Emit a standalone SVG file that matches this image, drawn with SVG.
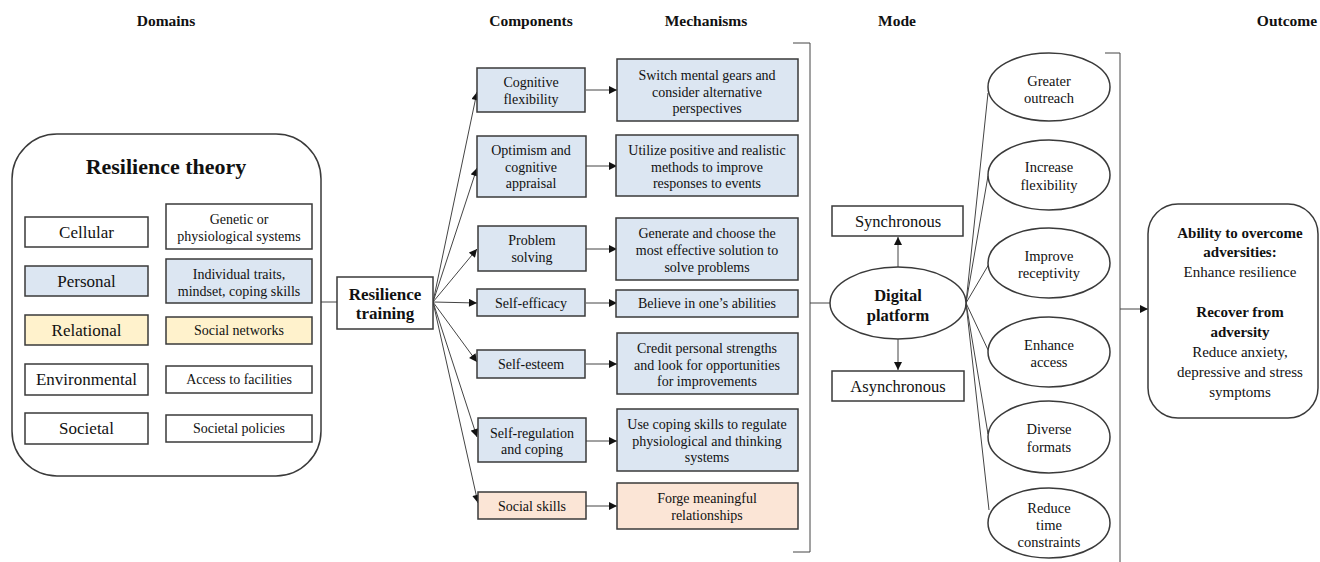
<svg xmlns="http://www.w3.org/2000/svg" width="1320" height="562" viewBox="0 0 1320 562" font-family="'Liberation Serif', 'Times New Roman', 'DejaVu Serif', serif">
<style>
text{font-family:'Liberation Serif','Times New Roman','DejaVu Serif',serif;fill:#111;text-anchor:middle;dominant-baseline:central}
.h{font-weight:bold;font-size:15.5px}
.b{stroke:#3a3a3a;stroke-width:1.5;fill:#fff}
.blue{fill:#dce6f2}
.yel{fill:#fff2cc}
.pch{fill:#fbe5d6}
.t14{font-size:14px}
.t15{font-size:15px}
.t17{font-size:17px}
.bold{font-weight:bold}
.ln{stroke:#444;stroke-width:1;fill:none}
.ar{stroke:#444;stroke-width:1;fill:none;marker-end:url(#ah)}
</style>
<defs>
<marker id="ah" viewBox="0 0 10 10" refX="10" refY="5" markerWidth="9" markerHeight="8" markerUnits="userSpaceOnUse" orient="auto">
<path d="M0,0 L10,5 L0,10 z" fill="#111"/>
</marker>
</defs>
<rect width="1320" height="562" fill="#fff"/>
<g id="headers">
<text class="h" x="166" y="20">Domains</text>
<text class="h" x="531" y="20">Components</text>
<text class="h" x="706" y="20">Mechanisms</text>
<text class="h" x="897" y="20">Mode</text>
<text class="h" x="1287" y="20">Outcome</text>
</g>
<g id="connectors">
<line class="ln" x1="148" y1="232" x2="166" y2="228"/>
<line class="ln" x1="148" y1="281" x2="166" y2="281"/>
<line class="ln" x1="148" y1="330" x2="166" y2="330"/>
<line class="ln" x1="148" y1="379" x2="166" y2="379"/>
<line class="ln" x1="148" y1="429" x2="166" y2="429"/>
<polyline class="ln" points="305,253 319,253 319,351 305,351"/>
<line class="ln" x1="319" y1="302" x2="337" y2="302"/>
<line class="ar" x1="433" y1="302" x2="477" y2="92"/>
<line class="ar" x1="433" y1="302" x2="477" y2="168"/>
<line class="ar" x1="433" y1="302" x2="477" y2="249"/>
<line class="ar" x1="433" y1="302" x2="477" y2="303"/>
<line class="ar" x1="433" y1="302" x2="477" y2="362"/>
<line class="ar" x1="433" y1="302" x2="477" y2="437"/>
<line class="ar" x1="433" y1="302" x2="478" y2="503"/>
<line class="ar" x1="586" y1="90" x2="617" y2="90"/>
<line class="ar" x1="586" y1="166" x2="617" y2="166"/>
<line class="ar" x1="586" y1="249" x2="617" y2="249"/>
<line class="ar" x1="586" y1="303" x2="617" y2="303"/>
<line class="ar" x1="586" y1="364" x2="617" y2="364"/>
<line class="ar" x1="586" y1="441" x2="617" y2="441"/>
<line class="ar" x1="586" y1="506" x2="617" y2="506"/>
<polyline class="ln" points="793,43 810,43 810,552 793,552"/>
<line class="ln" x1="810" y1="303" x2="830" y2="303"/>
<line class="ar" x1="898" y1="267" x2="898" y2="237"/>
<line class="ar" x1="898" y1="339" x2="898" y2="370"/>
<line class="ln" x1="966" y1="303" x2="988" y2="93"/>
<line class="ln" x1="966" y1="303" x2="988" y2="176"/>
<line class="ln" x1="966" y1="303" x2="989" y2="264"/>
<line class="ln" x1="966" y1="303" x2="989" y2="352"/>
<line class="ln" x1="966" y1="303" x2="988" y2="434"/>
<line class="ln" x1="966" y1="303" x2="989" y2="510"/>
<polyline class="ln" points="1105,53 1120,53 1120,562"/>
<line class="ar" x1="1120" y1="309" x2="1148" y2="309"/>
</g>
<g id="resilience-theory">
<rect class="b" x="12" y="134" width="309" height="342" rx="45" ry="45"/>
<text x="166" y="166" class="bold" style="font-size:22px">Resilience theory</text>
</g>
<g id="cellular"><rect class="b" x="25" y="217" width="123" height="30"/><text class="t17" x="86.5" y="232">Cellular</text></g>
<g id="genetic"><rect class="b" x="166" y="204" width="146" height="45"/><text class="t14" x="239" y="219">Genetic or</text><text class="t14" x="239" y="236">physiological systems</text></g>
<g id="personal"><rect class="b blue" x="25" y="266" width="123" height="30"/><text class="t17" x="86.5" y="281">Personal</text></g>
<g id="individual"><rect class="b blue" x="166" y="259" width="146" height="44"/><text class="t14" x="239" y="274">Individual traits,</text><text class="t14" x="239" y="291">mindset, coping skills</text></g>
<g id="relational"><rect class="b yel" x="25" y="315" width="123" height="30"/><text class="t17" x="86.5" y="330">Relational</text></g>
<g id="social-networks"><rect class="b yel" x="166" y="317" width="146" height="27"/><text class="t14" x="239" y="330.5">Social networks</text></g>
<g id="environmental"><rect class="b" x="25" y="364" width="123" height="31"/><text class="t17" x="86.5" y="379">Environmental</text></g>
<g id="access"><rect class="b" x="166" y="366" width="146" height="27"/><text class="t14" x="239" y="379.5">Access to facilities</text></g>
<g id="societal"><rect class="b" x="25" y="413" width="123" height="31"/><text class="t17" x="86.5" y="428.5">Societal</text></g>
<g id="societal-policies"><rect class="b" x="166" y="415" width="146" height="27"/><text class="t14" x="239" y="428.5">Societal policies</text></g>
<g id="resilience-training"><rect class="b" x="337" y="277" width="96" height="52"/><text class="t17 bold" x="385" y="294">Resilience</text><text class="t17 bold" x="385" y="313">training</text></g>
<g id="cognitive-flexibility"><rect class="b blue" x="477" y="68" width="108" height="44"/><text class="t14" x="531" y="82">Cognitive</text><text class="t14" x="531" y="99">flexibility</text></g>
<g id="optimism"><rect class="b blue" x="477" y="136" width="109" height="61"/><text class="t14" x="531" y="150">Optimism and</text><text class="t14" x="531" y="167">cognitive</text><text class="t14" x="531" y="183">appraisal</text></g>
<g id="problem-solving"><rect class="b blue" x="478" y="226" width="108" height="45"/><text class="t14" x="532" y="240">Problem</text><text class="t14" x="532" y="257">solving</text></g>
<g id="self-efficacy"><rect class="b blue" x="477" y="289" width="108" height="27"/><text class="t14" x="531" y="303">Self-efficacy</text></g>
<g id="self-esteem"><rect class="b blue" x="477" y="350" width="108" height="28"/><text class="t14" x="531" y="364">Self-esteem</text></g>
<g id="self-regulation"><rect class="b blue" x="478" y="418" width="108" height="44"/><text class="t14" x="532" y="433">Self-regulation</text><text class="t14" x="532" y="449">and coping</text></g>
<g id="social-skills"><rect class="b pch" x="478" y="492" width="108" height="27"/><text class="t14" x="532" y="506">Social skills</text></g>
<g id="switch"><rect class="b blue" x="617" y="59" width="181" height="62"/><text class="t14" x="707" y="75">Switch mental gears and</text><text class="t14" x="707" y="92">consider alternative</text><text class="t14" x="707" y="108">perspectives</text></g>
<g id="utilize"><rect class="b blue" x="616" y="135" width="182" height="61"/><text class="t14" x="707" y="150">Utilize positive and realistic</text><text class="t14" x="707" y="167">methods to improve</text><text class="t14" x="707" y="183">responses to events</text></g>
<g id="generate"><rect class="b blue" x="616" y="218" width="182" height="62"/><text class="t14" x="707" y="233">Generate and choose the</text><text class="t14" x="707" y="250">most effective solution to</text><text class="t14" x="707" y="267">solve problems</text></g>
<g id="believe"><rect class="b blue" x="616" y="290" width="182" height="27"/><text class="t14" x="707" y="303.5">Believe in one’s abilities</text></g>
<g id="credit"><rect class="b blue" x="617" y="333" width="181" height="61"/><text class="t14" x="707" y="348">Credit personal strengths</text><text class="t14" x="707" y="365">and look for opportunities</text><text class="t14" x="707" y="381">for improvements</text></g>
<g id="use-coping"><rect class="b blue" x="617" y="409" width="181" height="62"/><text class="t14" x="707" y="424">Use coping skills to regulate</text><text class="t14" x="707" y="441">physiological and thinking</text><text class="t14" x="707" y="457">systems</text></g>
<g id="forge"><rect class="b pch" x="617" y="483" width="181" height="46"/><text class="t14" x="707" y="498">Forge meaningful</text><text class="t14" x="707" y="515">relationships</text></g>
<g id="synchronous"><rect class="b" x="832" y="206" width="131" height="30"/><text x="898" y="221" style="font-size:16.5px">Synchronous</text></g>
<g id="digital-platform"><ellipse class="b" cx="898" cy="303" rx="68" ry="36"/><text class="bold" x="898" y="295" style="font-size:16.5px">Digital</text><text class="bold" x="898" y="315" style="font-size:16.5px">platform</text></g>
<g id="asynchronous"><rect class="b" x="832" y="371" width="132" height="30"/><text x="898" y="386" style="font-size:16.5px">Asynchronous</text></g>
<g id="greater-outreach"><ellipse class="b" cx="1049" cy="87" rx="61" ry="34"/><text x="1049" y="81" style="font-size:14.5px">Greater</text><text x="1049" y="98" style="font-size:14.5px">outreach</text></g>
<g id="increase-flexibility"><ellipse class="b" cx="1049" cy="175" rx="61" ry="35"/><text x="1049" y="167" style="font-size:14.5px">Increase</text><text x="1049" y="185" style="font-size:14.5px">flexibility</text></g>
<g id="improve-receptivity"><ellipse class="b" cx="1049" cy="263" rx="61" ry="35"/><text x="1049" y="256" style="font-size:14.5px">Improve</text><text x="1049" y="273" style="font-size:14.5px">receptivity</text></g>
<g id="enhance-access"><ellipse class="b" cx="1049" cy="352" rx="61" ry="35"/><text x="1049" y="345" style="font-size:14.5px">Enhance</text><text x="1049" y="362" style="font-size:14.5px">access</text></g>
<g id="diverse-formats"><ellipse class="b" cx="1049" cy="437" rx="61" ry="36"/><text x="1049" y="429" style="font-size:14.5px">Diverse</text><text x="1049" y="447" style="font-size:14.5px">formats</text></g>
<g id="reduce-time"><ellipse class="b" cx="1049" cy="523" rx="61" ry="35"/><text x="1049" y="508" style="font-size:14.5px">Reduce</text><text x="1049" y="525" style="font-size:14.5px">time</text><text x="1049" y="542" style="font-size:14.5px">constraints</text></g>
<g id="outcome">
<rect class="b" x="1148" y="204" width="170" height="214" rx="30" ry="30"/>
<text class="t15 bold" x="1240" y="233">Ability to overcome</text>
<text class="t15 bold" x="1240" y="252">adversities:</text>
<text class="t15" x="1240" y="272">Enhance resilience</text>
<text class="t15 bold" x="1240" y="312">Recover from</text>
<text class="t15 bold" x="1240" y="332">adversity</text>
<text class="t15" x="1240" y="352">Reduce anxiety,</text>
<text class="t15" x="1240" y="372">depressive and stress</text>
<text class="t15" x="1240" y="392">symptoms</text>
</g>
</svg>
